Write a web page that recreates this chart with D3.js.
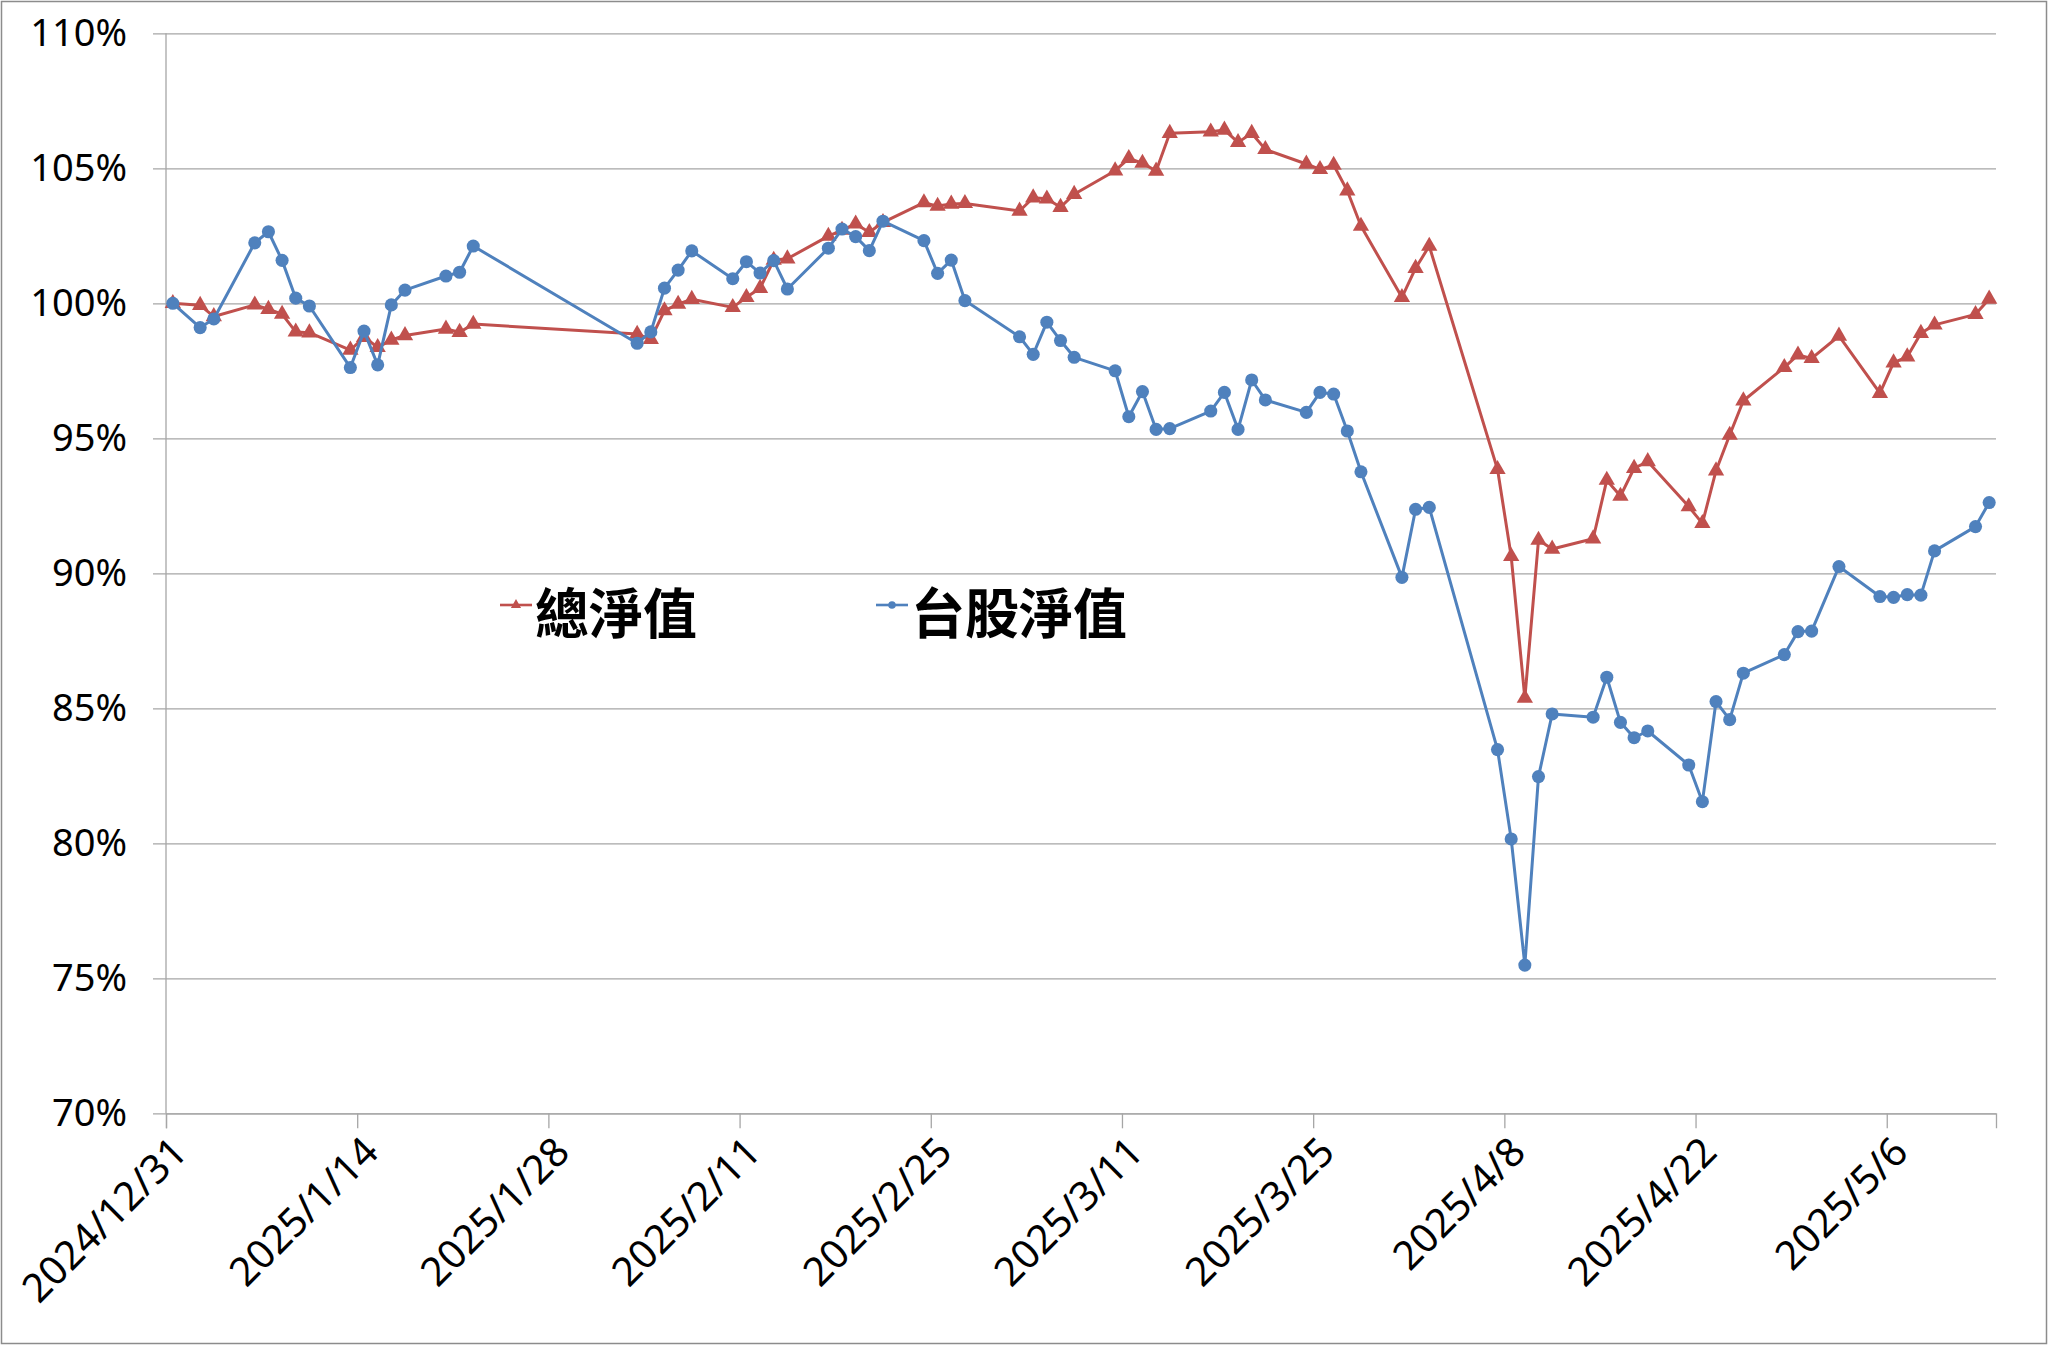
<!DOCTYPE html>
<html>
<head>
<meta charset="utf-8">
<script src="https://cdn.jsdelivr.net/npm/d3@7"></script>
<style>
  html, body { margin: 0; padding: 0; background: #fff; }
  svg { display: block; }
</style>
</head>
<body>
<svg id="chart" width="2048" height="1345"></svg>
<script>
// ---- data ----
const dates = [
  "2024-12-31","2025-01-02","2025-01-03","2025-01-06","2025-01-07","2025-01-08","2025-01-09","2025-01-10",
  "2025-01-13","2025-01-14","2025-01-15","2025-01-16","2025-01-17","2025-01-20","2025-01-21","2025-01-22",
  "2025-02-03","2025-02-04","2025-02-05","2025-02-06","2025-02-07","2025-02-10","2025-02-11","2025-02-12",
  "2025-02-13","2025-02-14","2025-02-17","2025-02-18","2025-02-19","2025-02-20","2025-02-21","2025-02-24",
  "2025-02-25","2025-02-26","2025-02-27","2025-03-03","2025-03-04","2025-03-05","2025-03-06","2025-03-07",
  "2025-03-10","2025-03-11","2025-03-12","2025-03-13","2025-03-14","2025-03-17","2025-03-18","2025-03-19",
  "2025-03-20","2025-03-21","2025-03-24","2025-03-25","2025-03-26","2025-03-27","2025-03-28","2025-03-31",
  "2025-04-01","2025-04-02","2025-04-07","2025-04-08","2025-04-09","2025-04-10","2025-04-11","2025-04-14",
  "2025-04-15","2025-04-16","2025-04-17","2025-04-18","2025-04-21","2025-04-22","2025-04-23","2025-04-24",
  "2025-04-25","2025-04-28","2025-04-29","2025-04-30","2025-05-02","2025-05-05","2025-05-06","2025-05-07",
  "2025-05-08","2025-05-09","2025-05-12","2025-05-13"
];
// 總淨值 (%)
const totalNav = [
  100.00, 99.93, 99.51, 99.94, 99.78, 99.60, 98.94, 98.91,
  98.27, 98.74, 98.37, 98.64, 98.81, 99.05, 98.93, 99.23,
  98.86, 98.67, 99.73, 99.97, 100.15, 99.85, 100.22, 100.56,
  101.60, 101.65, 102.49, 102.71, 102.94, 102.63, 103.00, 103.73,
  103.60, 103.68, 103.70, 103.42, 103.91, 103.87, 103.56, 104.04,
  104.91, 105.37, 105.19, 104.90, 106.30, 106.35, 106.42, 105.96,
  106.30, 105.70, 105.16, 104.96, 105.12, 104.17, 102.86, 100.22,
  101.30, 102.12, 93.85, 90.63, 85.38, 91.23, 90.90, 91.28,
  93.45, 92.86, 93.89, 94.14, 92.47, 91.85, 93.80, 95.12,
  96.39, 97.63, 98.09, 97.96, 98.79, 96.67, 97.80, 98.02,
  98.89, 99.20, 99.59, 100.16
];
// 台股淨值 (%)
const twNav = [
  100.00, 99.10, 99.42, 102.24, 102.65, 101.59, 100.19, 99.90,
  97.62, 98.97, 97.72, 99.94, 100.49, 101.01, 101.15, 102.12,
  98.52, 98.94, 100.56, 101.23, 101.94, 100.91, 101.54, 101.12,
  101.58, 100.53, 102.04, 102.75, 102.47, 101.95, 103.04, 102.32,
  101.11, 101.60, 100.10, 98.76, 98.11, 99.30, 98.62, 98.00,
  97.50, 95.80, 96.73, 95.33, 95.36, 96.01, 96.70, 95.33,
  97.16, 96.42, 95.96, 96.70, 96.64, 95.27, 93.76, 89.85,
  92.37, 92.44, 83.47, 80.16, 75.49, 82.47, 84.79, 84.67,
  86.15, 84.48, 83.91, 84.16, 82.90, 81.54, 85.25, 84.58,
  86.30, 86.99, 87.84, 87.86, 90.25, 89.14, 89.11, 89.21,
  89.19, 90.83, 91.73, 92.62
];
const seriesNames = ["總淨值", "台股淨值"];
const xTickDates = ["2024-12-31","2025-01-14","2025-01-28","2025-02-11","2025-02-25","2025-03-11","2025-03-25","2025-04-08","2025-04-22","2025-05-06"];
const yTickValues = [70, 75, 80, 85, 90, 95, 100, 105, 110];
const xDomain = ["2024-12-31", "2025-05-14"];

// ---- drawing ----
const parse = d3.utcParse("%Y-%m-%d");
const fmt = d3.utcFormat("%Y/%-m/%-d");
const svg = d3.select("#chart");
const W = 2048, H = 1345;
const plot = { left: 166, right: 1996, top: 33.3, bottom: 1113.3 };

const x = d3.scaleUtc().domain(xDomain.map(parse)).range([plot.left, plot.right]);
const y = d3.scaleLinear().domain([70, 110]).range([plot.bottom, plot.top]);
const halfDay = 12 * 3600 * 1000;
const px = d => x(new Date(parse(d).getTime() + halfDay));

// outer border
svg.append("rect").attr("x", 1.5).attr("y", 1.5).attr("width", W - 3).attr("height", H - 3)
  .attr("fill", "#fff").attr("stroke", "#8c8c8c").attr("stroke-width", 1.5);

const gridColor = "#a6a6a6";
// horizontal gridlines + y axis
const yAxis = d3.axisLeft(y).tickValues(yTickValues).tickSize(-(plot.right - plot.left)).tickFormat(d => d + "%");
const gy = svg.append("g").attr("transform", `translate(${plot.left},0)`).call(yAxis);
gy.select(".domain").remove();
gy.selectAll(".tick line").attr("stroke", gridColor).attr("stroke-width", 1.3).attr("x1", -13);
gy.selectAll(".tick text").attr("x", -39).attr("fill", "#000")
  .style("font-family", "'Noto Sans', 'DejaVu Sans', sans-serif").style("font-size", "38px");
// vertical axis line
svg.append("line").attr("x1", plot.left).attr("x2", plot.left).attr("y1", plot.top).attr("y2", plot.bottom)
  .attr("stroke", gridColor).attr("stroke-width", 1.3);

// x axis
const xAxis = d3.axisBottom(x).tickValues(xTickDates.map(parse)).tickSize(15).tickFormat(fmt);
const gx = svg.append("g").attr("transform", `translate(0,${plot.bottom})`).call(xAxis);
gx.select(".domain").attr("stroke", gridColor).attr("stroke-width", 1.3);
gx.selectAll(".tick line").attr("stroke", gridColor).attr("stroke-width", 1.3);
gx.selectAll(".tick text")
  .attr("fill", "#000")
  .style("font-family", "'Noto Sans', 'DejaVu Sans', sans-serif").style("font-size", "40px")
  .attr("text-anchor", "end")
  .attr("dy", "0.35em")
  .attr("transform", "translate(13,31) rotate(-45)")
  .attr("y", 0).attr("x", 0);

const red = "#c0504d", blue = "#4f81bd";
const line = d3.line().x(d => px(d.date)).y(d => y(d.v));
const mk = arr => dates.map((d, i) => ({ date: d, v: arr[i] }));

function drawSeries(data, color, shape) {
  svg.append("path").datum(data).attr("d", line).attr("fill", "none")
    .attr("stroke", color).attr("stroke-width", 3).attr("stroke-linejoin", "round");
  const sym = d3.symbol().type(shape).size(shape === d3.symbolCircle ? 135 : 115);
  svg.append("g").selectAll("path").data(data).join("path")
    .attr("d", sym)
    .attr("transform", d => `translate(${px(d.date)},${y(d.v)})`)
    .attr("fill", color);
}
drawSeries(mk(totalNav), red, d3.symbolTriangle);
drawSeries(mk(twNav), blue, d3.symbolCircle);

// legend
const legend = [
  { name: seriesNames[0], color: red, shape: d3.symbolTriangle, x: 500 },
  { name: seriesNames[1], color: blue, shape: d3.symbolCircle, x: 876 }
];
const lg = svg.append("g");
legend.forEach(l => {
  lg.append("line").attr("x1", l.x).attr("x2", l.x + 32).attr("y1", 605).attr("y2", 605)
    .attr("stroke", l.color).attr("stroke-width", 2.6);
  lg.append("path").attr("d", d3.symbol().type(l.shape).size(45)())
    .attr("transform", `translate(${l.x + 16},605)`).attr("fill", l.color);
  lg.append("text").attr("x", l.x + 35).attr("y", 615).attr("dy", "0.35em")
    .style("font-family", "'Noto Sans CJK TC', sans-serif").style("font-size", "54px")
    .style("font-weight", "bold").attr("fill", "#000").text(l.name);
});
</script>
</body>
</html>
